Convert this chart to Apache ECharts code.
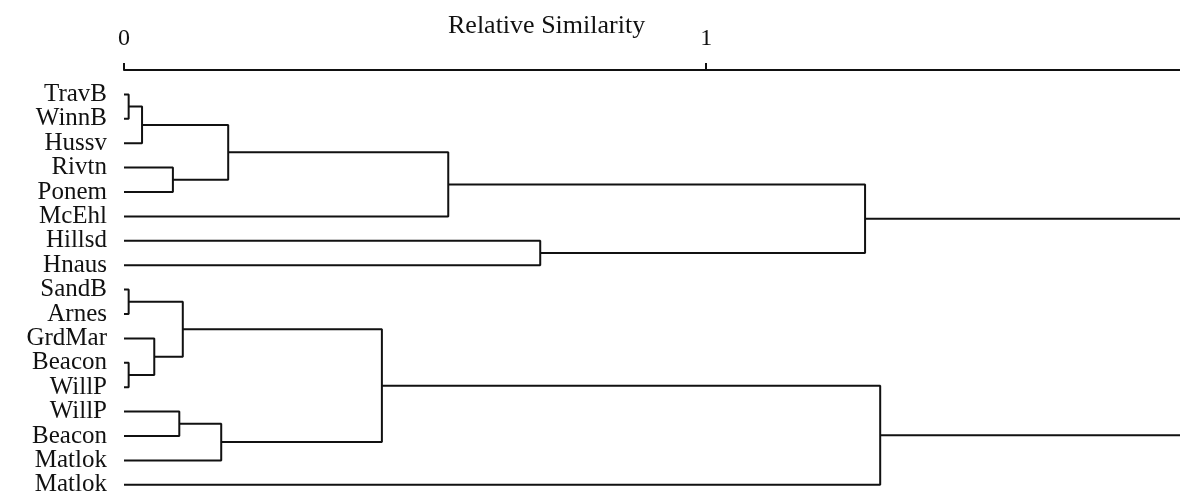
<!DOCTYPE html>
<html>
<head>
<meta charset="utf-8">
<script src="https://cdn.jsdelivr.net/npm/echarts@6/dist/echarts.min.js"></script>
<style>
  html, body { margin: 0; padding: 0; background: #fff; }
  #chart { width: 1180px; height: 500px; }
</style>
</head>
<body>
<div id="chart"></div>
<script>
// Leaves, top to bottom
const leafNames = ['TravB', 'WinnB', 'Hussv', 'Rivtn', 'Ponem', 'McEhl', 'Hillsd', 'Hnaus',
  'SandB', 'Arnes', 'GrdMar', 'Beacon', 'WillP', 'WillP', 'Beacon', 'Matlok', 'Matlok'];

// Merges: node ids 0..16 are leaves, merge k creates node 17+k
const mergeLeft   = [0, 17, 3, 18, 20, 6, 21, 8, 11, 10, 24, 13, 28, 27, 30];
const mergeRight  = [1, 2, 4, 19, 5, 7, 22, 9, 12, 25, 26, 14, 15, 29, 16];
const mergeHeight = [0.008, 0.031, 0.084, 0.179, 0.557, 0.715, 1.273, 0.008, 0.008, 0.052, 0.101, 0.095, 0.167, 0.443, 1.299];

// Axis
const xMin = 0;
const xMax = 1.814;
const tickValues = [0, 1];
const axisTitle = 'Relative Similarity';

const nLeaves = leafNames.length;
const pos = [];
for (let i = 0; i < nLeaves; i++) pos.push([0, i]);
const isChild = {};
const series = [];
const lineStyle = { color: '#111', width: 2 };
mergeLeft.forEach((a, k) => {
  const b = mergeRight[k], h = mergeHeight[k];
  const pa = pos[a], pb = pos[b];
  isChild[a] = true; isChild[b] = true;
  pos.push([h, (pa[1] + pb[1]) / 2]);
  series.push({
    type: 'line', symbol: 'none', animation: false, silent: true,
    lineStyle: lineStyle,
    data: [[pa[0], pa[1]], [h, pa[1]], [h, pb[1]], [pb[0], pb[1]]]
  });
});
// stems of the top clusters run off the right edge
for (let n = nLeaves; n < pos.length; n++) {
  if (!isChild[n]) {
    series.push({
      type: 'line', symbol: 'none', animation: false, silent: true,
      lineStyle: lineStyle,
      data: [[pos[n][0], pos[n][1]], [xMax, pos[n][1]]]
    });
  }
}

const font = '"Liberation Serif", "Times New Roman", serif';
const chart = echarts.init(document.getElementById('chart'), null, { renderer: 'canvas' });
chart.setOption({
  animation: false,
  backgroundColor: '#fff',
  title: {
    text: axisTitle, left: 448, top: 13, padding: 0,
    textStyle: { fontFamily: font, fontSize: 26, fontWeight: 'normal', color: '#111' }
  },
  grid: { left: 124, right: 0, top: 70, bottom: 3, containLabel: false },
  xAxis: {
    type: 'value', position: 'top',
    min: xMin, max: xMax,
    axisLine: { show: true, onZero: false, lineStyle: { color: '#111', width: 2 } },
    axisTick: { show: true, customValues: tickValues, length: 7, lineStyle: { color: '#111', width: 2 } },
    axisLabel: { customValues: tickValues, margin: 19, fontFamily: font, fontSize: 24, color: '#111' },
    splitLine: { show: false }
  },
  yAxis: {
    type: 'value', inverse: true, min: -1, max: nLeaves - 0.5, interval: 1,
    axisLine: { show: false }, axisTick: { show: false }, splitLine: { show: false },
    axisLabel: {
      margin: 17, fontFamily: font, fontSize: 25, lineHeight: 20, color: '#111',
      showMinLabel: false, showMaxLabel: false, hideOverlap: false,
      formatter: v => (v >= 0 && leafNames[v]) ? leafNames[v] : ''
    }
  },
  series: series
});
</script>
</body>
</html>
